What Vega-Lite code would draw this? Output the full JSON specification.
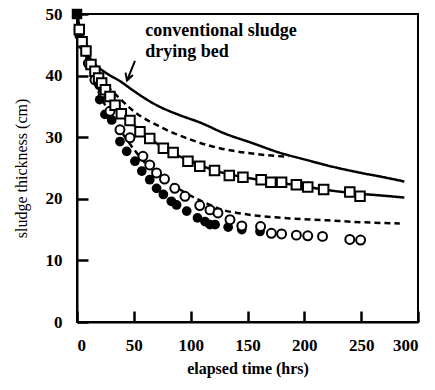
{
  "$schema": "https://vega.github.io/schema/vega-lite/v6.json",
  "width": 341,
  "height": 308,
  "autosize": "none",
  "padding": {"left": 77, "top": 14, "right": 17, "bottom": 68},
  "background": "white",
  "config": {
    "view": {"stroke": "black", "strokeWidth": 2},
    "axis": {
      "grid": false,
      "domainColor": "black",
      "domainWidth": 2,
      "tickColor": "black",
      "tickWidth": 2.5,
      "ticks": true,
      "tickSize": -11,
      "labelPadding": 26,
      "labelFont": "Liberation Serif",
      "labelFontWeight": "bold",
      "labelFontSize": 17,
      "labelColor": "black",
      "titleFont": "Liberation Serif",
      "titleFontSize": 16,
      "titleColor": "black",
      "zindex": 1
    }
  },
  "datasets": {
    "curves": [
      {"curve": "conventional", "t": 0, "v": 50}, {"curve": "conventional", "t": 3, "v": 46.5}, {"curve": "conventional", "t": 8, "v": 44}, {"curve": "conventional", "t": 15, "v": 42}, {"curve": "conventional", "t": 25, "v": 40.5}, {"curve": "conventional", "t": 38.7, "v": 39}, {"curve": "conventional", "t": 50, "v": 37.5}, {"curve": "conventional", "t": 70, "v": 35.2}, {"curve": "conventional", "t": 90, "v": 33.6}, {"curve": "conventional", "t": 108, "v": 32.4}, {"curve": "conventional", "t": 130, "v": 30.6}, {"curve": "conventional", "t": 155, "v": 29}, {"curve": "conventional", "t": 178, "v": 27.5}, {"curve": "conventional", "t": 200, "v": 26.4}, {"curve": "conventional", "t": 225, "v": 25.2}, {"curve": "conventional", "t": 250, "v": 24.2}, {"curve": "conventional", "t": 270, "v": 23.5}, {"curve": "conventional", "t": 288, "v": 22.8},
      {"curve": "upper dashed", "t": 0, "v": 50}, {"curve": "upper dashed", "t": 5, "v": 45}, {"curve": "upper dashed", "t": 12, "v": 41.5}, {"curve": "upper dashed", "t": 20, "v": 39.5}, {"curve": "upper dashed", "t": 32, "v": 37.3}, {"curve": "upper dashed", "t": 50, "v": 34.2}, {"curve": "upper dashed", "t": 73, "v": 31.7}, {"curve": "upper dashed", "t": 100, "v": 29.6}, {"curve": "upper dashed", "t": 117, "v": 28.6}, {"curve": "upper dashed", "t": 140, "v": 27.7}, {"curve": "upper dashed", "t": 161, "v": 27.2}, {"curve": "upper dashed", "t": 186, "v": 26.8},
      {"curve": "lower solid", "t": 0, "v": 50}, {"curve": "lower solid", "t": 5, "v": 45.5}, {"curve": "lower solid", "t": 10, "v": 43}, {"curve": "lower solid", "t": 20, "v": 39.5}, {"curve": "lower solid", "t": 30, "v": 36.3}, {"curve": "lower solid", "t": 40, "v": 33.8}, {"curve": "lower solid", "t": 55, "v": 31.2}, {"curve": "lower solid", "t": 75, "v": 28.4}, {"curve": "lower solid", "t": 100, "v": 26.1}, {"curve": "lower solid", "t": 125, "v": 24.4}, {"curve": "lower solid", "t": 150, "v": 23.4}, {"curve": "lower solid", "t": 175, "v": 22.7}, {"curve": "lower solid", "t": 200, "v": 22}, {"curve": "lower solid", "t": 225, "v": 21.3}, {"curve": "lower solid", "t": 250, "v": 20.8}, {"curve": "lower solid", "t": 270, "v": 20.5}, {"curve": "lower solid", "t": 288, "v": 20.2},
      {"curve": "lower dashed", "t": 0, "v": 50}, {"curve": "lower dashed", "t": 10, "v": 42}, {"curve": "lower dashed", "t": 20, "v": 37}, {"curve": "lower dashed", "t": 30, "v": 33.5}, {"curve": "lower dashed", "t": 45, "v": 29.3}, {"curve": "lower dashed", "t": 60, "v": 25.8}, {"curve": "lower dashed", "t": 80, "v": 22.8}, {"curve": "lower dashed", "t": 100, "v": 20.5}, {"curve": "lower dashed", "t": 117, "v": 19}, {"curve": "lower dashed", "t": 128, "v": 18.2}, {"curve": "lower dashed", "t": 145, "v": 17.6}, {"curve": "lower dashed", "t": 161, "v": 17.2}, {"curve": "lower dashed", "t": 181, "v": 16.9}, {"curve": "lower dashed", "t": 220, "v": 16.5}, {"curve": "lower dashed", "t": 250, "v": 16.2}, {"curve": "lower dashed", "t": 284, "v": 16}
    ],
    "filled": [
      {"t": 2, "v": 46.5}, {"t": 5, "v": 45}, {"t": 20, "v": 36.1}, {"t": 24.6, "v": 33.7}, {"t": 30.5, "v": 32.8}, {"t": 37.8, "v": 29.3}, {"t": 43.7, "v": 27.7}, {"t": 51, "v": 26.1}, {"t": 57, "v": 24.5}, {"t": 64, "v": 23.1}, {"t": 70, "v": 21.7}, {"t": 76, "v": 20.7}, {"t": 83, "v": 19.6}, {"t": 87.6, "v": 19}, {"t": 96.5, "v": 18}, {"t": 106, "v": 16.9}, {"t": 112.6, "v": 16.3}, {"t": 117, "v": 15.8}, {"t": 121.5, "v": 15.8}, {"t": 133, "v": 15.4}, {"t": 145, "v": 15}, {"t": 161, "v": 14.7}
    ],
    "open": [
      {"t": 2, "v": 47.5}, {"t": 10, "v": 42}, {"t": 15.8, "v": 39.3}, {"t": 20, "v": 38.5}, {"t": 23, "v": 37.2}, {"t": 29, "v": 34.2}, {"t": 37.8, "v": 31.2}, {"t": 46.6, "v": 29.9}, {"t": 58, "v": 26.9}, {"t": 64, "v": 25.5}, {"t": 70, "v": 24.2}, {"t": 77, "v": 23.2}, {"t": 86, "v": 21.7}, {"t": 95, "v": 20.4}, {"t": 108, "v": 18.9}, {"t": 117, "v": 18.2}, {"t": 124, "v": 17.7}, {"t": 134.6, "v": 16.6}, {"t": 145, "v": 15.6}, {"t": 161.5, "v": 15.5}, {"t": 171, "v": 14.4}, {"t": 180, "v": 14.3}, {"t": 193, "v": 14.1}, {"t": 203, "v": 14}, {"t": 216, "v": 13.9}, {"t": 240, "v": 13.4}, {"t": 249.5, "v": 13.3}
    ],
    "squares": [
      {"t": 2, "v": 47.5}, {"t": 4.5, "v": 45.5}, {"t": 7.9, "v": 44}, {"t": 12.3, "v": 41.8}, {"t": 15.8, "v": 40.7}, {"t": 19, "v": 39.6}, {"t": 21.7, "v": 38.8}, {"t": 25, "v": 37.7}, {"t": 29, "v": 36.6}, {"t": 33.5, "v": 35.2}, {"t": 39, "v": 33.8}, {"t": 46.6, "v": 32.7}, {"t": 55.4, "v": 30.9}, {"t": 64, "v": 29.8}, {"t": 76, "v": 28.2}, {"t": 84.6, "v": 27.5}, {"t": 97.6, "v": 26.1}, {"t": 108, "v": 25.3}, {"t": 121, "v": 24.6}, {"t": 134, "v": 23.8}, {"t": 146, "v": 23.5}, {"t": 162, "v": 23.1}, {"t": 170.6, "v": 22.7}, {"t": 180, "v": 22.7}, {"t": 193, "v": 22.3}, {"t": 203, "v": 21.9}, {"t": 217, "v": 21.5}, {"t": 240, "v": 21.1}, {"t": 249, "v": 20.4}
    ],
    "initial": [{"t": 0, "v": 50}],
    "label": [
      {"t": 60, "v": 47.2, "text": "conventional sludge"},
      {"t": 60, "v": 43.9, "text": "drying bed"}
    ],
    "arrow": [
      {"t": 51, "v": 42.4, "part": "start"},
      {"t": 44, "v": 39.2, "part": "tip"}
    ]
  },
  "encoding": {
    "x": {"field": "t", "type": "quantitative", "scale": {"domain": [0, 300]}, "axis": {"values": [0, 50, 100, 150, 200, 250, 300], "title": "elapsed time (hrs)", "titleFontWeight": "bold", "titlePadding": 7}},
    "y": {"field": "v", "type": "quantitative", "scale": {"domain": [0, 50]}, "axis": {"values": [0, 10, 20, 30, 40, 50], "title": "sludge thickness (cm)", "titleFontWeight": "normal", "titlePadding": 16}}
  },
  "layer": [
    {
      "data": {"name": "curves"},
      "mark": {"type": "line", "color": "black", "strokeWidth": 2.5, "interpolate": "monotone"},
      "encoding": {
        "detail": {"field": "curve"},
        "strokeDash": {"field": "curve", "type": "nominal", "scale": {"domain": ["conventional", "upper dashed", "lower solid", "lower dashed"], "range": [[1, 0], [6, 4], [1, 0], [6, 4]]}, "legend": null}
      }
    },
    {
      "data": {"name": "filled"},
      "mark": {"type": "point", "shape": "circle", "filled": true, "color": "black", "size": 95, "opacity": 1}
    },
    {
      "data": {"name": "open"},
      "mark": {"type": "point", "shape": "circle", "fill": "white", "stroke": "black", "strokeWidth": 2, "size": 80, "opacity": 1, "fillOpacity": 1}
    },
    {
      "data": {"name": "squares"},
      "mark": {"type": "point", "shape": "square", "fill": "white", "stroke": "black", "strokeWidth": 2, "size": 90, "opacity": 1, "fillOpacity": 1}
    },
    {
      "data": {"name": "initial"},
      "mark": {"type": "point", "shape": "square", "filled": true, "color": "black", "size": 110, "opacity": 1}
    },
    {
      "data": {"name": "label"},
      "mark": {"type": "text", "align": "left", "baseline": "middle", "font": "Liberation Serif", "fontWeight": "bold", "fontSize": 18, "color": "black"},
      "encoding": {"text": {"field": "text"}}
    },
    {
      "data": {"name": "arrow"},
      "mark": {"type": "line", "color": "black", "strokeWidth": 2},
      "encoding": {}
    },
    {
      "data": {"name": "arrow"},
      "transform": [{"filter": "datum.part === 'tip'"}],
      "mark": {"type": "point", "shape": "M-0.55,-1L0,0L0.55,-1", "filled": false, "stroke": "black", "strokeWidth": 2, "size": 200, "angle": 18, "opacity": 1}
    }
  ]
}
